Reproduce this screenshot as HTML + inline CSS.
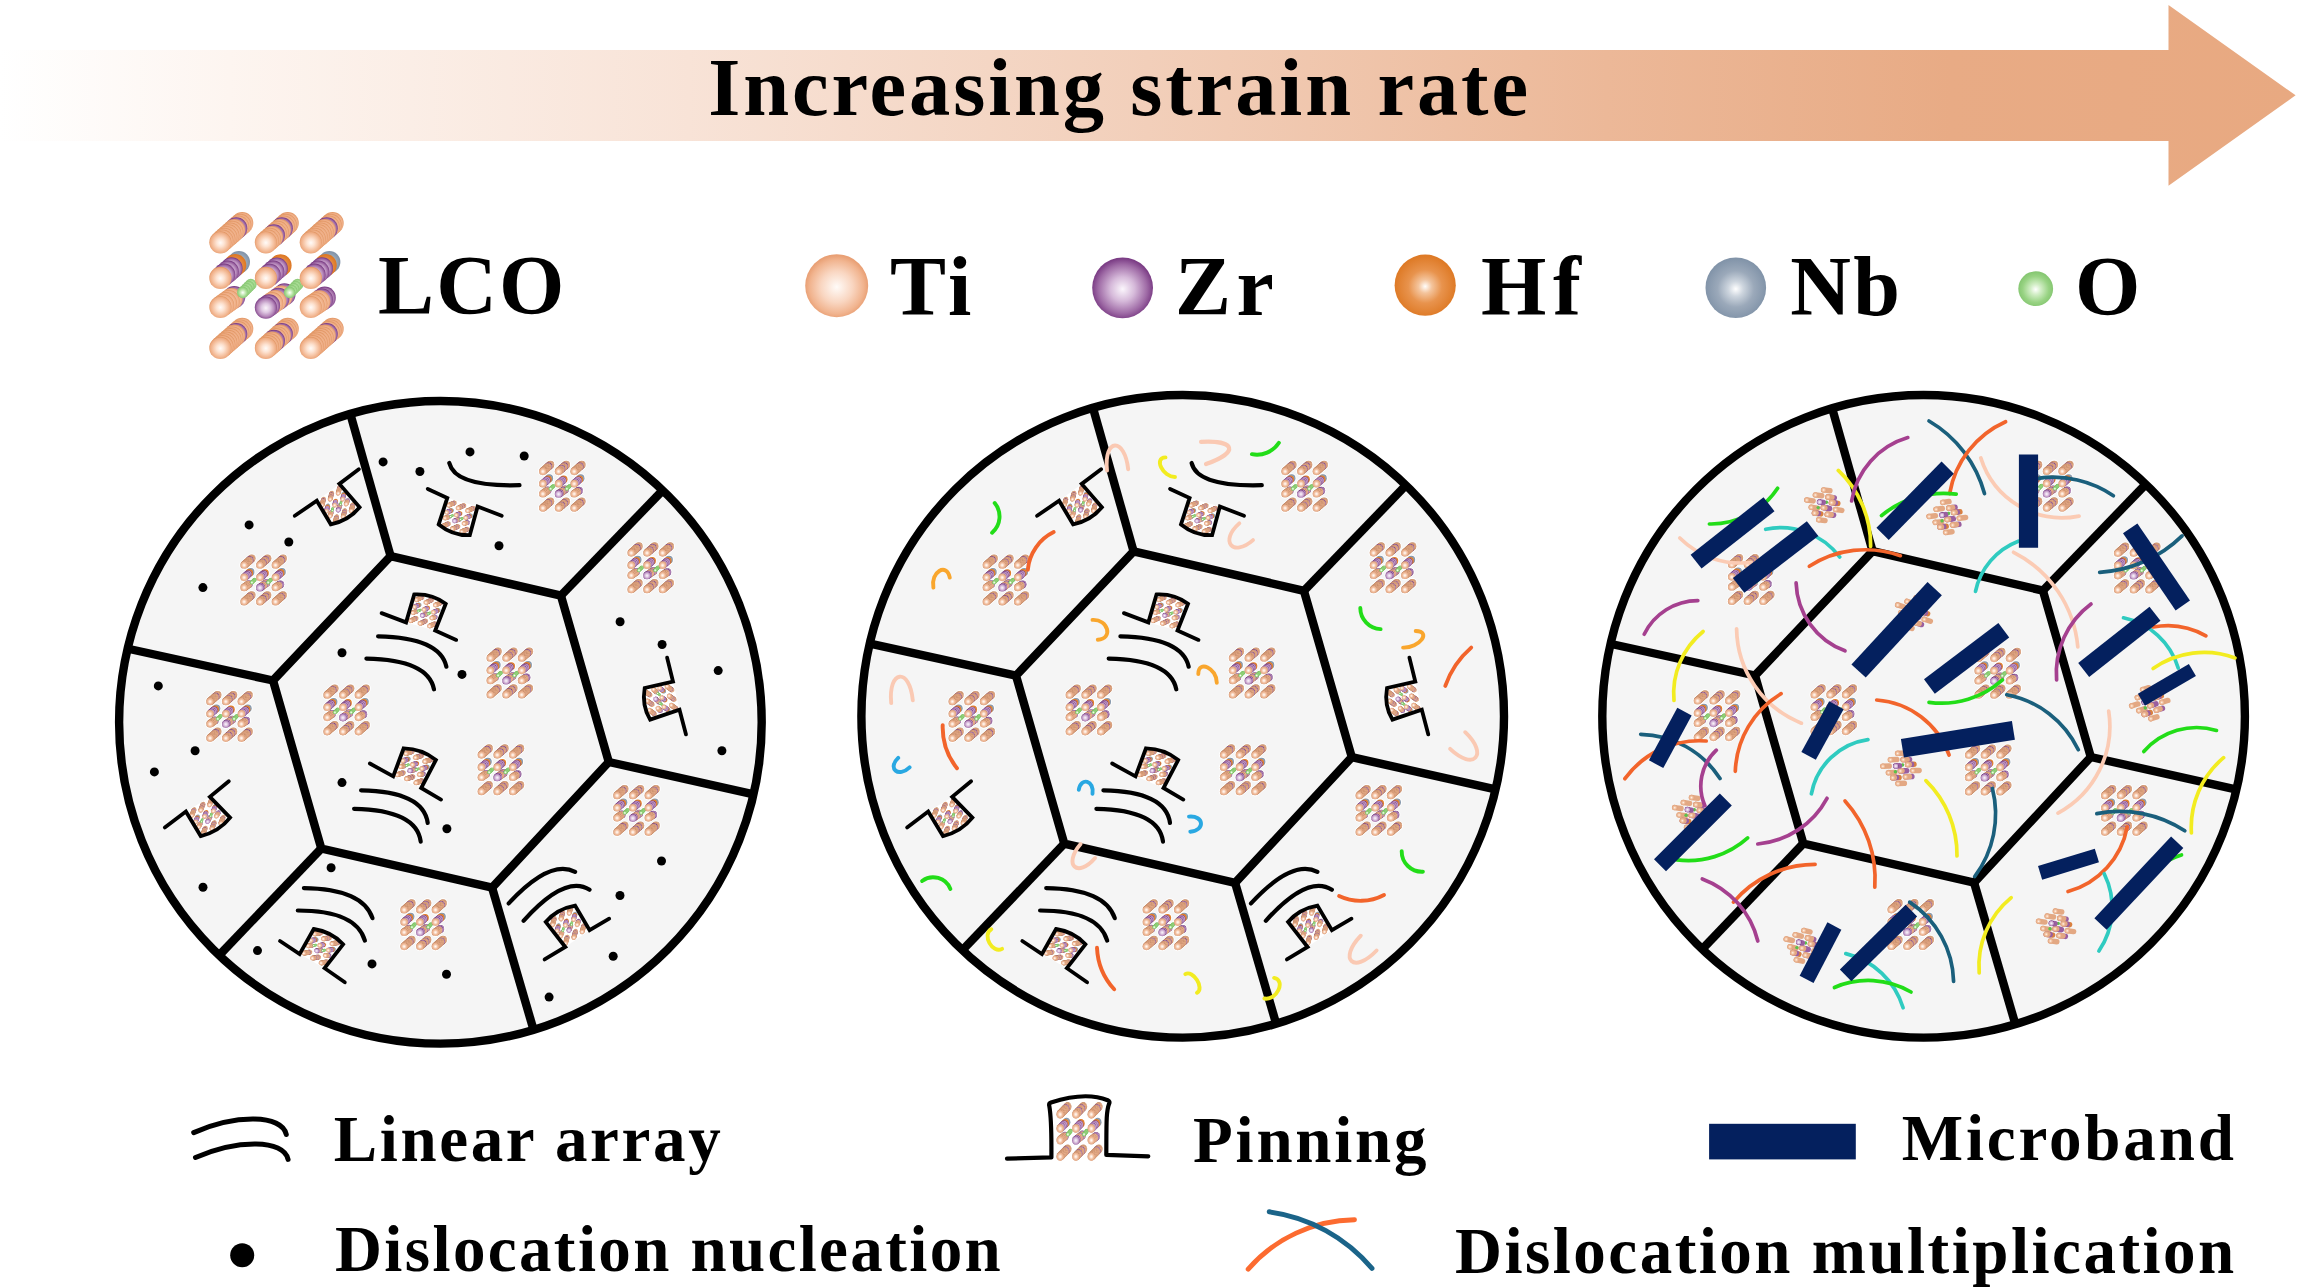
<!DOCTYPE html>
<html><head><meta charset="utf-8"><title>Increasing strain rate</title>
<style>
html,body{margin:0;padding:0;background:#fff;}
svg{display:block;}
text{font-family:"Liberation Serif",serif;font-weight:bold;fill:#000;}
</style></head><body>
<svg width="2300" height="1287" viewBox="0 0 2300 1287">
<defs>
<linearGradient id="arrowg" gradientUnits="userSpaceOnUse" x1="0" y1="0" x2="2295" y2="0">
<stop offset="0" stop-color="#ffffff"/><stop offset="0.1" stop-color="#fdf5f0"/><stop offset="0.3" stop-color="#f8e3d7"/><stop offset="0.5" stop-color="#f2cfba"/><stop offset="0.7" stop-color="#ecb898"/><stop offset="0.85" stop-color="#e8ab85"/><stop offset="1" stop-color="#e8a981"/>
</linearGradient>
<radialGradient id="gP" cx="0.5" cy="0.52" r="0.5"><stop offset="0" stop-color="#fffbf8"/><stop offset="0.3" stop-color="#fce2d2"/><stop offset="0.6" stop-color="#f0bd9d"/><stop offset="0.88" stop-color="#e7ab88"/><stop offset="1" stop-color="#c48a66"/></radialGradient>
<radialGradient id="gV" cx="0.5" cy="0.52" r="0.5"><stop offset="0" stop-color="#fcf6fc"/><stop offset="0.4" stop-color="#e2cde5"/><stop offset="0.8" stop-color="#bd93c3"/><stop offset="0.94" stop-color="#a06fa8"/><stop offset="1" stop-color="#733a7d"/></radialGradient>
<radialGradient id="gO" cx="0.5" cy="0.52" r="0.5"><stop offset="0" stop-color="#fff8f0"/><stop offset="0.25" stop-color="#f3bf93"/><stop offset="0.6" stop-color="#e58c44"/><stop offset="1" stop-color="#dd7722"/></radialGradient>
<radialGradient id="gG" cx="0.5" cy="0.52" r="0.5"><stop offset="0" stop-color="#fafbfc"/><stop offset="0.3" stop-color="#c3ccd6"/><stop offset="0.65" stop-color="#98a7b8"/><stop offset="1" stop-color="#8092a7"/></radialGradient>
<radialGradient id="gN" cx="0.5" cy="0.52" r="0.5"><stop offset="0" stop-color="#ffffff"/><stop offset="0.3" stop-color="#d6f1ca"/><stop offset="0.7" stop-color="#93d27b"/><stop offset="1" stop-color="#6fbc57"/></radialGradient>
<radialGradient id="gS" cx="0.5" cy="0.52" r="0.5"><stop offset="0" stop-color="#fff6ee"/><stop offset="0.45" stop-color="#f3c4a4"/><stop offset="1" stop-color="#e0a27c"/></radialGradient>
<radialGradient id="gLP" cx="0.5" cy="0.52" r="0.5"><stop offset="0" stop-color="#fffbf8"/><stop offset="0.5" stop-color="#f9d6c1"/><stop offset="0.85" stop-color="#f1b48f"/><stop offset="1" stop-color="#e9a075"/></radialGradient>
<radialGradient id="gLV" cx="0.5" cy="0.52" r="0.5"><stop offset="0" stop-color="#fbf6fc"/><stop offset="0.4" stop-color="#d6bada"/><stop offset="0.8" stop-color="#9f6ba6"/><stop offset="1" stop-color="#7c3e86"/></radialGradient>
<radialGradient id="gLO" cx="0.5" cy="0.52" r="0.5"><stop offset="0" stop-color="#fffdfb"/><stop offset="0.22" stop-color="#f4c49c"/><stop offset="0.55" stop-color="#e8934d"/><stop offset="1" stop-color="#de7a26"/></radialGradient>
<radialGradient id="gLG" cx="0.5" cy="0.52" r="0.5"><stop offset="0" stop-color="#ffffff"/><stop offset="0.25" stop-color="#cdd5de"/><stop offset="0.6" stop-color="#9ba9ba"/><stop offset="1" stop-color="#8294a9"/></radialGradient>
<radialGradient id="gLN" cx="0.5" cy="0.52" r="0.5"><stop offset="0" stop-color="#ffffff"/><stop offset="0.3" stop-color="#d2eec6"/><stop offset="0.75" stop-color="#98d383"/><stop offset="1" stop-color="#86c772"/></radialGradient>
<g id="lco">
<line x1="30.4" y1="42.3" x2="52.2" y2="23.1" stroke="#fff" stroke-opacity="0.85" stroke-width="28.7" stroke-linecap="round"/>
<line x1="75.9" y1="42.3" x2="97.7" y2="23.1" stroke="#fff" stroke-opacity="0.85" stroke-width="28.7" stroke-linecap="round"/>
<line x1="120.8" y1="42.3" x2="142.6" y2="23.1" stroke="#fff" stroke-opacity="0.85" stroke-width="28.7" stroke-linecap="round"/>
<line x1="30.4" y1="147.9" x2="52.2" y2="128.8" stroke="#fff" stroke-opacity="0.85" stroke-width="28.7" stroke-linecap="round"/>
<line x1="75.9" y1="147.9" x2="97.7" y2="128.8" stroke="#fff" stroke-opacity="0.85" stroke-width="28.7" stroke-linecap="round"/>
<line x1="120.8" y1="147.9" x2="142.6" y2="128.8" stroke="#fff" stroke-opacity="0.85" stroke-width="28.7" stroke-linecap="round"/>
<line x1="30.4" y1="107" x2="44.2" y2="97.1" stroke="#fff" stroke-opacity="0.85" stroke-width="28.7" stroke-linecap="round"/>
<line x1="75.9" y1="107.6" x2="94.4" y2="94.4" stroke="#fff" stroke-opacity="0.85" stroke-width="28.7" stroke-linecap="round"/>
<line x1="120.8" y1="107" x2="134.7" y2="97.7" stroke="#fff" stroke-opacity="0.85" stroke-width="28.7" stroke-linecap="round"/>
<line x1="52.8" y1="92.4" x2="60.8" y2="84.5" stroke="#fff" stroke-opacity="0.85" stroke-width="18.1" stroke-linecap="round"/>
<line x1="99.7" y1="92.4" x2="107.6" y2="84.5" stroke="#fff" stroke-opacity="0.85" stroke-width="18.1" stroke-linecap="round"/>
<line x1="30.4" y1="77.9" x2="48.9" y2="62.1" stroke="#fff" stroke-opacity="0.85" stroke-width="28.7" stroke-linecap="round"/>
<line x1="75.9" y1="77.9" x2="90.5" y2="65.4" stroke="#fff" stroke-opacity="0.85" stroke-width="28.7" stroke-linecap="round"/>
<line x1="120.8" y1="77.9" x2="139.3" y2="62.1" stroke="#fff" stroke-opacity="0.85" stroke-width="28.7" stroke-linecap="round"/>
<circle cx="52.2" cy="23.1" r="11.1" fill="url(#gP)"/>
<circle cx="50.2" cy="24.9" r="11.1" fill="url(#gP)"/>
<circle cx="48.2" cy="26.6" r="11.1" fill="url(#gP)"/>
<circle cx="46.2" cy="28.3" r="11.1" fill="url(#gV)"/>
<circle cx="44.2" cy="30.1" r="11.1" fill="url(#gP)"/>
<circle cx="42.3" cy="31.8" r="11.1" fill="url(#gP)"/>
<circle cx="40.3" cy="33.6" r="11.1" fill="url(#gP)"/>
<circle cx="38.3" cy="35.3" r="11.1" fill="url(#gP)"/>
<circle cx="36.3" cy="37" r="11.1" fill="url(#gP)"/>
<circle cx="34.3" cy="38.8" r="11.1" fill="url(#gP)"/>
<circle cx="32.4" cy="40.5" r="11.1" fill="url(#gP)"/>
<circle cx="30.4" cy="42.3" r="11.1" fill="url(#gP)"/>
<circle cx="97.7" cy="23.1" r="11.1" fill="url(#gP)"/>
<circle cx="95.7" cy="24.9" r="11.1" fill="url(#gP)"/>
<circle cx="93.8" cy="26.6" r="11.1" fill="url(#gP)"/>
<circle cx="91.8" cy="28.3" r="11.1" fill="url(#gV)"/>
<circle cx="89.8" cy="30.1" r="11.1" fill="url(#gP)"/>
<circle cx="87.8" cy="31.8" r="11.1" fill="url(#gP)"/>
<circle cx="85.8" cy="33.6" r="11.1" fill="url(#gP)"/>
<circle cx="83.9" cy="35.3" r="11.1" fill="url(#gV)"/>
<circle cx="81.9" cy="37" r="11.1" fill="url(#gP)"/>
<circle cx="79.9" cy="38.8" r="11.1" fill="url(#gP)"/>
<circle cx="77.9" cy="40.5" r="11.1" fill="url(#gP)"/>
<circle cx="75.9" cy="42.3" r="11.1" fill="url(#gP)"/>
<circle cx="142.6" cy="23.1" r="11.1" fill="url(#gP)"/>
<circle cx="140.6" cy="24.9" r="11.1" fill="url(#gP)"/>
<circle cx="138.7" cy="26.6" r="11.1" fill="url(#gP)"/>
<circle cx="136.7" cy="28.3" r="11.1" fill="url(#gV)"/>
<circle cx="134.7" cy="30.1" r="11.1" fill="url(#gP)"/>
<circle cx="132.7" cy="31.8" r="11.1" fill="url(#gP)"/>
<circle cx="130.7" cy="33.6" r="11.1" fill="url(#gP)"/>
<circle cx="128.8" cy="35.3" r="11.1" fill="url(#gP)"/>
<circle cx="126.8" cy="37" r="11.1" fill="url(#gP)"/>
<circle cx="124.8" cy="38.8" r="11.1" fill="url(#gP)"/>
<circle cx="122.8" cy="40.5" r="11.1" fill="url(#gP)"/>
<circle cx="120.8" cy="42.3" r="11.1" fill="url(#gP)"/>
<circle cx="52.2" cy="128.8" r="11.1" fill="url(#gP)"/>
<circle cx="50.2" cy="130.5" r="11.1" fill="url(#gP)"/>
<circle cx="48.2" cy="132.2" r="11.1" fill="url(#gP)"/>
<circle cx="46.2" cy="134" r="11.1" fill="url(#gV)"/>
<circle cx="44.2" cy="135.7" r="11.1" fill="url(#gP)"/>
<circle cx="42.3" cy="137.5" r="11.1" fill="url(#gP)"/>
<circle cx="40.3" cy="139.2" r="11.1" fill="url(#gP)"/>
<circle cx="38.3" cy="140.9" r="11.1" fill="url(#gP)"/>
<circle cx="36.3" cy="142.7" r="11.1" fill="url(#gP)"/>
<circle cx="34.3" cy="144.4" r="11.1" fill="url(#gP)"/>
<circle cx="32.4" cy="146.2" r="11.1" fill="url(#gP)"/>
<circle cx="30.4" cy="147.9" r="11.1" fill="url(#gP)"/>
<circle cx="97.7" cy="128.8" r="11.1" fill="url(#gP)"/>
<circle cx="95.7" cy="130.5" r="11.1" fill="url(#gP)"/>
<circle cx="93.8" cy="132.2" r="11.1" fill="url(#gP)"/>
<circle cx="91.8" cy="134" r="11.1" fill="url(#gV)"/>
<circle cx="89.8" cy="135.7" r="11.1" fill="url(#gP)"/>
<circle cx="87.8" cy="137.5" r="11.1" fill="url(#gP)"/>
<circle cx="85.8" cy="139.2" r="11.1" fill="url(#gP)"/>
<circle cx="83.9" cy="140.9" r="11.1" fill="url(#gV)"/>
<circle cx="81.9" cy="142.7" r="11.1" fill="url(#gP)"/>
<circle cx="79.9" cy="144.4" r="11.1" fill="url(#gP)"/>
<circle cx="77.9" cy="146.2" r="11.1" fill="url(#gP)"/>
<circle cx="75.9" cy="147.9" r="11.1" fill="url(#gP)"/>
<circle cx="142.6" cy="128.8" r="11.1" fill="url(#gP)"/>
<circle cx="140.6" cy="130.5" r="11.1" fill="url(#gP)"/>
<circle cx="138.7" cy="132.2" r="11.1" fill="url(#gP)"/>
<circle cx="136.7" cy="134" r="11.1" fill="url(#gV)"/>
<circle cx="134.7" cy="135.7" r="11.1" fill="url(#gP)"/>
<circle cx="132.7" cy="137.5" r="11.1" fill="url(#gP)"/>
<circle cx="130.7" cy="139.2" r="11.1" fill="url(#gP)"/>
<circle cx="128.8" cy="140.9" r="11.1" fill="url(#gP)"/>
<circle cx="126.8" cy="142.7" r="11.1" fill="url(#gP)"/>
<circle cx="124.8" cy="144.4" r="11.1" fill="url(#gP)"/>
<circle cx="122.8" cy="146.2" r="11.1" fill="url(#gP)"/>
<circle cx="120.8" cy="147.9" r="11.1" fill="url(#gP)"/>
<circle cx="44.2" cy="97.1" r="11.1" fill="url(#gV)"/>
<circle cx="41.5" cy="99" r="11.1" fill="url(#gP)"/>
<circle cx="38.7" cy="101" r="11.1" fill="url(#gP)"/>
<circle cx="35.9" cy="103" r="11.1" fill="url(#gP)"/>
<circle cx="33.1" cy="105" r="11.1" fill="url(#gP)"/>
<circle cx="30.4" cy="107" r="11.1" fill="url(#gP)"/>
<circle cx="94.4" cy="94.4" r="11.1" fill="url(#gV)"/>
<circle cx="91.3" cy="96.6" r="11.1" fill="url(#gP)"/>
<circle cx="88.3" cy="98.8" r="11.1" fill="url(#gV)"/>
<circle cx="85.2" cy="101" r="11.1" fill="url(#gP)"/>
<circle cx="82.1" cy="103.2" r="11.1" fill="url(#gP)"/>
<circle cx="79" cy="105.4" r="11.1" fill="url(#gV)"/>
<circle cx="75.9" cy="107.6" r="11.1" fill="url(#gV)"/>
<circle cx="134.7" cy="97.7" r="11.1" fill="url(#gV)"/>
<circle cx="131.9" cy="99.6" r="11.1" fill="url(#gV)"/>
<circle cx="129.2" cy="101.4" r="11.1" fill="url(#gP)"/>
<circle cx="126.4" cy="103.3" r="11.1" fill="url(#gP)"/>
<circle cx="123.6" cy="105.1" r="11.1" fill="url(#gP)"/>
<circle cx="120.8" cy="107" r="11.1" fill="url(#gP)"/>
<circle cx="60.8" cy="84.5" r="5.8" fill="url(#gN)"/>
<circle cx="58.8" cy="86.5" r="5.8" fill="url(#gN)"/>
<circle cx="56.8" cy="88.5" r="5.8" fill="url(#gN)"/>
<circle cx="54.8" cy="90.5" r="5.8" fill="url(#gN)"/>
<circle cx="52.8" cy="92.4" r="5.8" fill="url(#gN)"/>
<circle cx="107.6" cy="84.5" r="5.8" fill="url(#gN)"/>
<circle cx="105.7" cy="86.5" r="5.8" fill="url(#gN)"/>
<circle cx="103.7" cy="88.5" r="5.8" fill="url(#gN)"/>
<circle cx="101.7" cy="90.5" r="5.8" fill="url(#gN)"/>
<circle cx="99.7" cy="92.4" r="5.8" fill="url(#gN)"/>
<circle cx="48.9" cy="62.1" r="11.1" fill="url(#gG)"/>
<circle cx="45.2" cy="65.2" r="11.1" fill="url(#gO)"/>
<circle cx="41.5" cy="68.4" r="11.1" fill="url(#gV)"/>
<circle cx="37.8" cy="71.6" r="11.1" fill="url(#gV)"/>
<circle cx="34.1" cy="74.7" r="11.1" fill="url(#gV)"/>
<circle cx="30.4" cy="77.9" r="11.1" fill="url(#gP)"/>
<circle cx="90.5" cy="65.4" r="11.1" fill="url(#gO)"/>
<circle cx="86.8" cy="68.5" r="11.1" fill="url(#gV)"/>
<circle cx="83.2" cy="71.6" r="11.1" fill="url(#gV)"/>
<circle cx="79.6" cy="74.8" r="11.1" fill="url(#gV)"/>
<circle cx="75.9" cy="77.9" r="11.1" fill="url(#gP)"/>
<circle cx="139.3" cy="62.1" r="11.1" fill="url(#gG)"/>
<circle cx="135.6" cy="65.2" r="11.1" fill="url(#gO)"/>
<circle cx="131.9" cy="68.4" r="11.1" fill="url(#gV)"/>
<circle cx="128.2" cy="71.6" r="11.1" fill="url(#gV)"/>
<circle cx="124.5" cy="74.7" r="11.1" fill="url(#gV)"/>
<circle cx="120.8" cy="77.9" r="11.1" fill="url(#gP)"/>
</g>
<radialGradient id="gBP" cx="0.5" cy="0.52" r="0.5"><stop offset="0" stop-color="#fffbf8"/><stop offset="0.35" stop-color="#fde3d2"/><stop offset="0.7" stop-color="#f5c1a0"/><stop offset="0.92" stop-color="#eeab82"/><stop offset="1" stop-color="#e29866"/></radialGradient>
<radialGradient id="gBV" cx="0.5" cy="0.52" r="0.5"><stop offset="0" stop-color="#fbf4fb"/><stop offset="0.4" stop-color="#dfc8e2"/><stop offset="0.75" stop-color="#b88bbc"/><stop offset="0.92" stop-color="#97609e"/><stop offset="1" stop-color="#7b3e85"/></radialGradient>
<radialGradient id="gBO" cx="0.5" cy="0.52" r="0.5"><stop offset="0" stop-color="#fff8f0"/><stop offset="0.25" stop-color="#f3bf93"/><stop offset="0.6" stop-color="#e58c44"/><stop offset="1" stop-color="#dd7722"/></radialGradient>
<radialGradient id="gBG" cx="0.5" cy="0.52" r="0.5"><stop offset="0" stop-color="#fafbfc"/><stop offset="0.3" stop-color="#c3ccd6"/><stop offset="0.65" stop-color="#98a7b8"/><stop offset="1" stop-color="#8092a7"/></radialGradient>
<radialGradient id="gBN" cx="0.5" cy="0.52" r="0.5"><stop offset="0" stop-color="#ffffff"/><stop offset="0.3" stop-color="#d6f1ca"/><stop offset="0.7" stop-color="#a3d98e"/><stop offset="1" stop-color="#86c672"/></radialGradient>
<g id="lcobig">
<line x1="30.4" y1="42.3" x2="52.2" y2="23.1" stroke="#fff" stroke-opacity="0.85" stroke-width="28.7" stroke-linecap="round"/>
<line x1="75.9" y1="42.3" x2="97.7" y2="23.1" stroke="#fff" stroke-opacity="0.85" stroke-width="28.7" stroke-linecap="round"/>
<line x1="120.8" y1="42.3" x2="142.6" y2="23.1" stroke="#fff" stroke-opacity="0.85" stroke-width="28.7" stroke-linecap="round"/>
<line x1="30.4" y1="147.9" x2="52.2" y2="128.8" stroke="#fff" stroke-opacity="0.85" stroke-width="28.7" stroke-linecap="round"/>
<line x1="75.9" y1="147.9" x2="97.7" y2="128.8" stroke="#fff" stroke-opacity="0.85" stroke-width="28.7" stroke-linecap="round"/>
<line x1="120.8" y1="147.9" x2="142.6" y2="128.8" stroke="#fff" stroke-opacity="0.85" stroke-width="28.7" stroke-linecap="round"/>
<line x1="30.4" y1="107" x2="44.2" y2="97.1" stroke="#fff" stroke-opacity="0.85" stroke-width="28.7" stroke-linecap="round"/>
<line x1="75.9" y1="107.6" x2="94.4" y2="94.4" stroke="#fff" stroke-opacity="0.85" stroke-width="28.7" stroke-linecap="round"/>
<line x1="120.8" y1="107" x2="134.7" y2="97.7" stroke="#fff" stroke-opacity="0.85" stroke-width="28.7" stroke-linecap="round"/>
<line x1="52.8" y1="92.4" x2="60.8" y2="84.5" stroke="#fff" stroke-opacity="0.85" stroke-width="18.1" stroke-linecap="round"/>
<line x1="99.7" y1="92.4" x2="107.6" y2="84.5" stroke="#fff" stroke-opacity="0.85" stroke-width="18.1" stroke-linecap="round"/>
<line x1="30.4" y1="77.9" x2="48.9" y2="62.1" stroke="#fff" stroke-opacity="0.85" stroke-width="28.7" stroke-linecap="round"/>
<line x1="75.9" y1="77.9" x2="90.5" y2="65.4" stroke="#fff" stroke-opacity="0.85" stroke-width="28.7" stroke-linecap="round"/>
<line x1="120.8" y1="77.9" x2="139.3" y2="62.1" stroke="#fff" stroke-opacity="0.85" stroke-width="28.7" stroke-linecap="round"/>
<circle cx="52.2" cy="23.1" r="11.1" fill="url(#gBP)"/>
<circle cx="50.2" cy="24.9" r="11.1" fill="url(#gBP)"/>
<circle cx="48.2" cy="26.6" r="11.1" fill="url(#gBP)"/>
<circle cx="46.2" cy="28.3" r="11.1" fill="url(#gBV)"/>
<circle cx="44.2" cy="30.1" r="11.1" fill="url(#gBP)"/>
<circle cx="42.3" cy="31.8" r="11.1" fill="url(#gBP)"/>
<circle cx="40.3" cy="33.6" r="11.1" fill="url(#gBP)"/>
<circle cx="38.3" cy="35.3" r="11.1" fill="url(#gBP)"/>
<circle cx="36.3" cy="37" r="11.1" fill="url(#gBP)"/>
<circle cx="34.3" cy="38.8" r="11.1" fill="url(#gBP)"/>
<circle cx="32.4" cy="40.5" r="11.1" fill="url(#gBP)"/>
<circle cx="30.4" cy="42.3" r="11.1" fill="url(#gBP)"/>
<circle cx="97.7" cy="23.1" r="11.1" fill="url(#gBP)"/>
<circle cx="95.7" cy="24.9" r="11.1" fill="url(#gBP)"/>
<circle cx="93.8" cy="26.6" r="11.1" fill="url(#gBP)"/>
<circle cx="91.8" cy="28.3" r="11.1" fill="url(#gBV)"/>
<circle cx="89.8" cy="30.1" r="11.1" fill="url(#gBP)"/>
<circle cx="87.8" cy="31.8" r="11.1" fill="url(#gBP)"/>
<circle cx="85.8" cy="33.6" r="11.1" fill="url(#gBP)"/>
<circle cx="83.9" cy="35.3" r="11.1" fill="url(#gBV)"/>
<circle cx="81.9" cy="37" r="11.1" fill="url(#gBP)"/>
<circle cx="79.9" cy="38.8" r="11.1" fill="url(#gBP)"/>
<circle cx="77.9" cy="40.5" r="11.1" fill="url(#gBP)"/>
<circle cx="75.9" cy="42.3" r="11.1" fill="url(#gBP)"/>
<circle cx="142.6" cy="23.1" r="11.1" fill="url(#gBP)"/>
<circle cx="140.6" cy="24.9" r="11.1" fill="url(#gBP)"/>
<circle cx="138.7" cy="26.6" r="11.1" fill="url(#gBP)"/>
<circle cx="136.7" cy="28.3" r="11.1" fill="url(#gBV)"/>
<circle cx="134.7" cy="30.1" r="11.1" fill="url(#gBP)"/>
<circle cx="132.7" cy="31.8" r="11.1" fill="url(#gBP)"/>
<circle cx="130.7" cy="33.6" r="11.1" fill="url(#gBP)"/>
<circle cx="128.8" cy="35.3" r="11.1" fill="url(#gBP)"/>
<circle cx="126.8" cy="37" r="11.1" fill="url(#gBP)"/>
<circle cx="124.8" cy="38.8" r="11.1" fill="url(#gBP)"/>
<circle cx="122.8" cy="40.5" r="11.1" fill="url(#gBP)"/>
<circle cx="120.8" cy="42.3" r="11.1" fill="url(#gBP)"/>
<circle cx="52.2" cy="128.8" r="11.1" fill="url(#gBP)"/>
<circle cx="50.2" cy="130.5" r="11.1" fill="url(#gBP)"/>
<circle cx="48.2" cy="132.2" r="11.1" fill="url(#gBP)"/>
<circle cx="46.2" cy="134" r="11.1" fill="url(#gBV)"/>
<circle cx="44.2" cy="135.7" r="11.1" fill="url(#gBP)"/>
<circle cx="42.3" cy="137.5" r="11.1" fill="url(#gBP)"/>
<circle cx="40.3" cy="139.2" r="11.1" fill="url(#gBP)"/>
<circle cx="38.3" cy="140.9" r="11.1" fill="url(#gBP)"/>
<circle cx="36.3" cy="142.7" r="11.1" fill="url(#gBP)"/>
<circle cx="34.3" cy="144.4" r="11.1" fill="url(#gBP)"/>
<circle cx="32.4" cy="146.2" r="11.1" fill="url(#gBP)"/>
<circle cx="30.4" cy="147.9" r="11.1" fill="url(#gBP)"/>
<circle cx="97.7" cy="128.8" r="11.1" fill="url(#gBP)"/>
<circle cx="95.7" cy="130.5" r="11.1" fill="url(#gBP)"/>
<circle cx="93.8" cy="132.2" r="11.1" fill="url(#gBP)"/>
<circle cx="91.8" cy="134" r="11.1" fill="url(#gBV)"/>
<circle cx="89.8" cy="135.7" r="11.1" fill="url(#gBP)"/>
<circle cx="87.8" cy="137.5" r="11.1" fill="url(#gBP)"/>
<circle cx="85.8" cy="139.2" r="11.1" fill="url(#gBP)"/>
<circle cx="83.9" cy="140.9" r="11.1" fill="url(#gBV)"/>
<circle cx="81.9" cy="142.7" r="11.1" fill="url(#gBP)"/>
<circle cx="79.9" cy="144.4" r="11.1" fill="url(#gBP)"/>
<circle cx="77.9" cy="146.2" r="11.1" fill="url(#gBP)"/>
<circle cx="75.9" cy="147.9" r="11.1" fill="url(#gBP)"/>
<circle cx="142.6" cy="128.8" r="11.1" fill="url(#gBP)"/>
<circle cx="140.6" cy="130.5" r="11.1" fill="url(#gBP)"/>
<circle cx="138.7" cy="132.2" r="11.1" fill="url(#gBP)"/>
<circle cx="136.7" cy="134" r="11.1" fill="url(#gBV)"/>
<circle cx="134.7" cy="135.7" r="11.1" fill="url(#gBP)"/>
<circle cx="132.7" cy="137.5" r="11.1" fill="url(#gBP)"/>
<circle cx="130.7" cy="139.2" r="11.1" fill="url(#gBP)"/>
<circle cx="128.8" cy="140.9" r="11.1" fill="url(#gBP)"/>
<circle cx="126.8" cy="142.7" r="11.1" fill="url(#gBP)"/>
<circle cx="124.8" cy="144.4" r="11.1" fill="url(#gBP)"/>
<circle cx="122.8" cy="146.2" r="11.1" fill="url(#gBP)"/>
<circle cx="120.8" cy="147.9" r="11.1" fill="url(#gBP)"/>
<circle cx="44.2" cy="97.1" r="11.1" fill="url(#gBV)"/>
<circle cx="41.5" cy="99" r="11.1" fill="url(#gBP)"/>
<circle cx="38.7" cy="101" r="11.1" fill="url(#gBP)"/>
<circle cx="35.9" cy="103" r="11.1" fill="url(#gBP)"/>
<circle cx="33.1" cy="105" r="11.1" fill="url(#gBP)"/>
<circle cx="30.4" cy="107" r="11.1" fill="url(#gBP)"/>
<circle cx="94.4" cy="94.4" r="11.1" fill="url(#gBV)"/>
<circle cx="91.3" cy="96.6" r="11.1" fill="url(#gBP)"/>
<circle cx="88.3" cy="98.8" r="11.1" fill="url(#gBV)"/>
<circle cx="85.2" cy="101" r="11.1" fill="url(#gBP)"/>
<circle cx="82.1" cy="103.2" r="11.1" fill="url(#gBP)"/>
<circle cx="79" cy="105.4" r="11.1" fill="url(#gBV)"/>
<circle cx="75.9" cy="107.6" r="11.1" fill="url(#gBV)"/>
<circle cx="134.7" cy="97.7" r="11.1" fill="url(#gBV)"/>
<circle cx="131.9" cy="99.6" r="11.1" fill="url(#gBV)"/>
<circle cx="129.2" cy="101.4" r="11.1" fill="url(#gBP)"/>
<circle cx="126.4" cy="103.3" r="11.1" fill="url(#gBP)"/>
<circle cx="123.6" cy="105.1" r="11.1" fill="url(#gBP)"/>
<circle cx="120.8" cy="107" r="11.1" fill="url(#gBP)"/>
<circle cx="60.8" cy="84.5" r="5.8" fill="url(#gBN)"/>
<circle cx="58.8" cy="86.5" r="5.8" fill="url(#gBN)"/>
<circle cx="56.8" cy="88.5" r="5.8" fill="url(#gBN)"/>
<circle cx="54.8" cy="90.5" r="5.8" fill="url(#gBN)"/>
<circle cx="52.8" cy="92.4" r="5.8" fill="url(#gBN)"/>
<circle cx="107.6" cy="84.5" r="5.8" fill="url(#gBN)"/>
<circle cx="105.7" cy="86.5" r="5.8" fill="url(#gBN)"/>
<circle cx="103.7" cy="88.5" r="5.8" fill="url(#gBN)"/>
<circle cx="101.7" cy="90.5" r="5.8" fill="url(#gBN)"/>
<circle cx="99.7" cy="92.4" r="5.8" fill="url(#gBN)"/>
<circle cx="48.9" cy="62.1" r="11.1" fill="url(#gBG)"/>
<circle cx="45.2" cy="65.2" r="11.1" fill="url(#gBO)"/>
<circle cx="41.5" cy="68.4" r="11.1" fill="url(#gBV)"/>
<circle cx="37.8" cy="71.6" r="11.1" fill="url(#gBV)"/>
<circle cx="34.1" cy="74.7" r="11.1" fill="url(#gBV)"/>
<circle cx="30.4" cy="77.9" r="11.1" fill="url(#gBP)"/>
<circle cx="90.5" cy="65.4" r="11.1" fill="url(#gBO)"/>
<circle cx="86.8" cy="68.5" r="11.1" fill="url(#gBV)"/>
<circle cx="83.2" cy="71.6" r="11.1" fill="url(#gBV)"/>
<circle cx="79.6" cy="74.8" r="11.1" fill="url(#gBV)"/>
<circle cx="75.9" cy="77.9" r="11.1" fill="url(#gBP)"/>
<circle cx="139.3" cy="62.1" r="11.1" fill="url(#gBG)"/>
<circle cx="135.6" cy="65.2" r="11.1" fill="url(#gBO)"/>
<circle cx="131.9" cy="68.4" r="11.1" fill="url(#gBV)"/>
<circle cx="128.2" cy="71.6" r="11.1" fill="url(#gBV)"/>
<circle cx="124.5" cy="74.7" r="11.1" fill="url(#gBV)"/>
<circle cx="120.8" cy="77.9" r="11.1" fill="url(#gBP)"/>
</g>
<g id="lco2">
<line x1="-0.2" y1="-14.8" x2="6.1" y2="-13.9" stroke="#e3a883" stroke-width="5.5" stroke-linecap="round"/>
<circle cx="-0.2" cy="-14.8" r="2.75" fill="url(#gS)"/>
<line x1="-8.4" y1="-9.8" x2="-2.1" y2="-8.9" stroke="#e3a883" stroke-width="5.5" stroke-linecap="round"/>
<circle cx="-8.4" cy="-9.8" r="2.75" fill="url(#gS)"/>
<line x1="4.2" y1="-7.7" x2="10.5" y2="-6.8" stroke="#9a5fa0" stroke-width="5.5" stroke-linecap="round"/>
<line x1="4.2" y1="-7.7" x2="8.1" y2="-7.2" stroke="#e3a883" stroke-width="5.5" stroke-linecap="round"/>
<line x1="4.2" y1="-7.7" x2="5.8" y2="-7.5" stroke="#e3a883" stroke-width="5.5" stroke-linecap="round"/>
<circle cx="4.2" cy="-7.7" r="2.75" fill="url(#gS)"/>
<line x1="-17" y1="-4.7" x2="-10.7" y2="-3.8" stroke="#e3a883" stroke-width="5.5" stroke-linecap="round"/>
<circle cx="-17" cy="-4.7" r="2.75" fill="url(#gS)"/>
<line x1="7.7" y1="-2.1" x2="14" y2="-1.2" stroke="#d98040" stroke-width="5.5" stroke-linecap="round"/>
<line x1="7.7" y1="-2.1" x2="11.6" y2="-1.6" stroke="#9a5fa0" stroke-width="5.5" stroke-linecap="round"/>
<line x1="7.7" y1="-2.1" x2="9.3" y2="-1.9" stroke="#e3a883" stroke-width="5.5" stroke-linecap="round"/>
<circle cx="7.7" cy="-2.1" r="2.75" fill="url(#gS)"/>
<line x1="-12.6" y1="2.6" x2="-6.3" y2="3.5" stroke="#e3a883" stroke-width="5.5" stroke-linecap="round"/>
<circle cx="-12.6" cy="2.6" r="2.75" fill="url(#gS)"/>
<line x1="-0.5" y1="2.9" x2="5.8" y2="3.8" stroke="#9a5fa0" stroke-width="5.5" stroke-linecap="round"/>
<line x1="-0.5" y1="2.9" x2="3.4" y2="3.4" stroke="#9a5fa0" stroke-width="5.5" stroke-linecap="round"/>
<line x1="-0.5" y1="2.9" x2="1.1" y2="3.1" stroke="#e3a883" stroke-width="5.5" stroke-linecap="round"/>
<circle cx="-0.5" cy="2.9" r="2.75" fill="url(#gS)"/>
<line x1="11.7" y1="4.8" x2="18" y2="5.7" stroke="#e3a883" stroke-width="5.5" stroke-linecap="round"/>
<circle cx="11.7" cy="4.8" r="2.75" fill="url(#gS)"/>
<line x1="-9.3" y1="8.3" x2="-3" y2="9.2" stroke="#d98040" stroke-width="5.5" stroke-linecap="round"/>
<line x1="-9.3" y1="8.3" x2="-5.4" y2="8.8" stroke="#9a5fa0" stroke-width="5.5" stroke-linecap="round"/>
<line x1="-9.3" y1="8.3" x2="-7.7" y2="8.5" stroke="#e3a883" stroke-width="5.5" stroke-linecap="round"/>
<circle cx="-9.3" cy="8.3" r="2.75" fill="url(#gS)"/>
<line x1="3.5" y1="9.6" x2="9.8" y2="10.5" stroke="#9a5fa0" stroke-width="5.5" stroke-linecap="round"/>
<line x1="3.5" y1="9.6" x2="7.4" y2="10.1" stroke="#e3a883" stroke-width="5.5" stroke-linecap="round"/>
<line x1="3.5" y1="9.6" x2="5.1" y2="9.8" stroke="#e3a883" stroke-width="5.5" stroke-linecap="round"/>
<circle cx="3.5" cy="9.6" r="2.75" fill="url(#gS)"/>
<line x1="-5.1" y1="15" x2="1.2" y2="15.9" stroke="#e3a883" stroke-width="5.5" stroke-linecap="round"/>
<circle cx="-5.1" cy="15" r="2.75" fill="url(#gS)"/>
<circle cx="2.6" cy="-2.5" r="1.7" fill="#5cc04a"/>
<circle cx="-5.6" cy="2.9" r="1.7" fill="#5cc04a"/>
<line x1="-4.2" y1="-2.7" x2="-0.6" y2="-2.2" stroke="#9a5fa0" stroke-width="5.5" stroke-linecap="round"/>
<circle cx="-4.2" cy="-2.7" r="2.75" fill="url(#gV)"/>
</g>
</defs>
<rect width="2300" height="1287" fill="#fff"/>

<path d="M0 50.1H2168.5V5L2295.6 95.3L2168.5 185.8V141.1H0Z" fill="url(#arrowg)"/>
<text x="708.30" y="115.3" font-size="82.5" letter-spacing="2.881">Increasing strain rate</text>
<use href="#lcobig" transform="translate(190 200)"/>
<text x="378.10" y="314.3" font-size="84" letter-spacing="2.150">LCO</text>
<circle cx="836.7" cy="285.7" r="31.5" fill="url(#gLP)"/>
<text x="890.00" y="315" font-size="84" letter-spacing="3.400">Ti</text>
<circle cx="1122.6" cy="287.8" r="30.4" fill="url(#gLV)"/>
<text x="1175.00" y="315" font-size="84" letter-spacing="5.500">Zr</text>
<circle cx="1425.2" cy="285.2" r="30.6" fill="url(#gLO)"/>
<text x="1480.90" y="315" font-size="84" letter-spacing="6.800">Hf</text>
<circle cx="1735.8" cy="287.7" r="30.3" fill="url(#gLG)"/>
<text x="1790.20" y="315" font-size="84" letter-spacing="2.300">Nb</text>
<circle cx="2035.7" cy="288.7" r="17.4" fill="url(#gLN)"/>
<text x="2075.00" y="315" font-size="84" letter-spacing="0.000">O</text>
<g id="circ1">
<circle cx="440.4" cy="722.3" r="321.3" fill="#f5f5f5" stroke="#000" stroke-width="8.4"/>
<polygon points="390.6,556.2 560.9,595.6 608.8,762 492.1,887.7 321.3,848.5 273,680.5" fill="none" stroke="#000" stroke-width="8.4" stroke-linejoin="miter"/>
<line x1="390.6" y1="556.2" x2="350.3" y2="413.9" stroke="#000" stroke-width="8.4"/>
<line x1="560.9" y1="595.6" x2="661.6" y2="491.5" stroke="#000" stroke-width="8.4"/>
<line x1="608.8" y1="762" x2="752.6" y2="794.1" stroke="#000" stroke-width="8.4"/>
<line x1="492.1" y1="887.7" x2="533.1" y2="1028.3" stroke="#000" stroke-width="8.4"/>
<line x1="321.3" y1="848.5" x2="220.9" y2="953.5" stroke="#000" stroke-width="8.4"/>
<line x1="273" y1="680.5" x2="127" y2="648.5" stroke="#000" stroke-width="8.4"/>
<use href="#lco" transform="translate(562.3 486.3) scale(0.3467 0.3467) translate(-86.5 -85.5)"/>
<use href="#lco" transform="translate(263.6 580) scale(0.3467 0.3467) translate(-86.5 -85.5)"/>
<use href="#lco" transform="translate(650.7 567.8) scale(0.3467 0.3467) translate(-86.5 -85.5)"/>
<use href="#lco" transform="translate(636.5 810.4) scale(0.3467 0.3467) translate(-86.5 -85.5)"/>
<use href="#lco" transform="translate(423.6 924.7) scale(0.3467 0.3467) translate(-86.5 -85.5)"/>
<use href="#lco" transform="translate(229.5 716.4) scale(0.3467 0.3467) translate(-86.5 -85.5)"/>
<use href="#lco" transform="translate(346.6 709.9) scale(0.3467 0.3467) translate(-86.5 -85.5)"/>
<use href="#lco" transform="translate(509.8 673) scale(0.3467 0.3467) translate(-86.5 -85.5)"/>
<use href="#lco" transform="translate(500.9 769.8) scale(0.3467 0.3467) translate(-86.5 -85.5)"/>
<path d="M449.3 463Q455 487 519.5 485.2" fill="none" stroke="#000" stroke-width="4.2" stroke-linecap="round"/>
<path d="M508.7 903.4Q550 858.8 575.1 871.9" fill="none" stroke="#000" stroke-width="4.2" stroke-linecap="round"/>
<path d="M523.5 920.8Q565.3 874.1 589.6 889.7" fill="none" stroke="#000" stroke-width="4.2" stroke-linecap="round"/>
<path d="M303.9 888.1Q362.7 888.8 372.5 918.2" fill="none" stroke="#000" stroke-width="4.2" stroke-linecap="round"/>
<path d="M297.8 910.5Q356.2 910.5 364.9 940.6" fill="none" stroke="#000" stroke-width="4.2" stroke-linecap="round"/>
<path d="M378.1 636.4Q439.9 637.6 446.4 666.7" fill="none" stroke="#000" stroke-width="4.2" stroke-linecap="round"/>
<path d="M366.4 658.6Q428.2 659.7 434 689.3" fill="none" stroke="#000" stroke-width="4.2" stroke-linecap="round"/>
<path d="M361.1 790.3Q423.5 791.4 427.7 822.9" fill="none" stroke="#000" stroke-width="4.2" stroke-linecap="round"/>
<path d="M354.1 808.9Q416.6 810.1 420.7 841.6" fill="none" stroke="#000" stroke-width="4.2" stroke-linecap="round"/>
<clipPath id="pc1"><path d="M447.3 497.9L438.7 524.4Q452.5 535.6 469.8 535.2L477.6 506.5Z"/></clipPath><path d="M447.3 497.9L438.7 524.4Q452.5 535.6 469.8 535.2L477.6 506.5Z" fill="#fff"/><g clip-path="url(#pc1)"><use href="#lco" transform="translate(458 517.2) rotate(15.8) scale(0.2189 0.2055) translate(-86.5 -85.5)"/></g><path d="M427.8 488.9L447.3 497.9L438.7 524.4Q452.5 535.6 469.8 535.2L477.6 506.5L501.7 515.8" fill="none" stroke="#000" stroke-width="3.8" stroke-linecap="round" stroke-linejoin="miter"/>
<clipPath id="pc2"><path d="M316.8 500.7L330.8 524.3Q348.7 520.6 359.6 507.2L339.4 483.9Z"/></clipPath><path d="M316.8 500.7L330.8 524.3Q348.7 520.6 359.6 507.2L339.4 483.9Z" fill="#fff"/><g clip-path="url(#pc2)"><use href="#lco" transform="translate(337.4 505) rotate(-36.6) scale(0.2227 0.2070) translate(-86.5 -85.5)"/></g><path d="M294.8 515.8L316.8 500.7L330.8 524.3Q348.7 520.6 359.6 507.2L339.4 483.9L358.8 469.2" fill="none" stroke="#000" stroke-width="3.8" stroke-linecap="round" stroke-linejoin="miter"/>
<clipPath id="pc3"><path d="M673 681.5L644.7 688Q641.6 705.4 650.1 719.6L679.5 709.8Z"/></clipPath><path d="M673 681.5L644.7 688Q641.6 705.4 650.1 719.6L679.5 709.8Z" fill="#fff"/><g clip-path="url(#pc3)"><use href="#lco" transform="translate(660.7 700.1) rotate(77.1) scale(0.2132 0.2132) translate(-86.5 -85.5)"/></g><path d="M667.1 657.6L673 681.5L644.7 688Q641.6 705.4 650.1 719.6L679.5 709.8L686 734.4" fill="none" stroke="#000" stroke-width="3.8" stroke-linecap="round" stroke-linejoin="miter"/>
<clipPath id="pc4"><path d="M565.3 947L545.7 921.9Q557 908.8 575.1 905.6L589.6 930.2Z"/></clipPath><path d="M565.3 947L545.7 921.9Q557 908.8 575.1 905.6L589.6 930.2Z" fill="#fff"/><g clip-path="url(#pc4)"><use href="#lco" transform="translate(568.2 925.2) rotate(-34.7) scale(0.2235 0.2142) translate(-86.5 -85.5)"/></g><path d="M544.6 959.4L565.3 947L545.7 921.9Q557 908.8 575.1 905.6L589.6 930.2L609.2 918.7" fill="none" stroke="#000" stroke-width="3.8" stroke-linecap="round" stroke-linejoin="miter"/>
<clipPath id="pc5"><path d="M299.6 954.1L313.7 929Q331.7 931.7 343.1 944.3L324.6 968.2Z"/></clipPath><path d="M299.6 954.1L313.7 929Q331.7 931.7 343.1 944.3L324.6 968.2Z" fill="#fff"/><g clip-path="url(#pc5)"><use href="#lco" transform="translate(320.9 947.9) rotate(29.4) scale(0.2204 0.2096) translate(-86.5 -85.5)"/></g><path d="M280 941L299.6 954.1L313.7 929Q331.7 931.7 343.1 944.3L324.6 968.2L344.8 982.3" fill="none" stroke="#000" stroke-width="3.8" stroke-linecap="round" stroke-linejoin="miter"/>
<clipPath id="pc6"><path d="M185.9 811.5L200.7 836.1Q219.1 831.6 230.1 817.6L209.9 796.9Z"/></clipPath><path d="M185.9 811.5L200.7 836.1Q219.1 831.6 230.1 817.6L209.9 796.9Z" fill="#fff"/><g clip-path="url(#pc6)"><use href="#lco" transform="translate(207.4 816.5) rotate(-31.3) scale(0.2310 0.2045) translate(-86.5 -85.5)"/></g><path d="M164.8 827.4L185.9 811.5L200.7 836.1Q219.1 831.6 230.1 817.6L209.9 796.9L228.8 781.2" fill="none" stroke="#000" stroke-width="3.8" stroke-linecap="round" stroke-linejoin="miter"/>
<clipPath id="pc7"><path d="M406.1 622.4L414.2 594.5Q431.9 593.5 445.7 603.8L435.2 630.6Z"/></clipPath><path d="M406.1 622.4L414.2 594.5Q431.9 593.5 445.7 603.8L435.2 630.6Z" fill="#fff"/><g clip-path="url(#pc7)"><use href="#lco" transform="translate(425.7 611.7) rotate(15.7) scale(0.2184 0.2062) translate(-86.5 -85.5)"/></g><path d="M381.6 613.1L406.1 622.4L414.2 594.5Q431.9 593.5 445.7 603.8L435.2 630.6L456.2 639.9" fill="none" stroke="#000" stroke-width="3.8" stroke-linecap="round" stroke-linejoin="miter"/>
<clipPath id="pc8"><path d="M393.2 776.3L403.7 748.3Q422.3 748.7 435.9 760L421.2 788Z"/></clipPath><path d="M393.2 776.3L403.7 748.3Q422.3 748.7 435.9 760L421.2 788Z" fill="#fff"/><g clip-path="url(#pc8)"><use href="#lco" transform="translate(414 767.1) rotate(22.7) scale(0.2278 0.2179) translate(-86.5 -85.5)"/></g><path d="M369.9 763.5L393.2 776.3L403.7 748.3Q422.3 748.7 435.9 760L421.2 788L441 799.6" fill="none" stroke="#000" stroke-width="3.8" stroke-linecap="round" stroke-linejoin="miter"/>
<circle cx="383.1" cy="461.9" r="4.5" fill="#000"/>
<circle cx="419.9" cy="471.5" r="4.5" fill="#000"/>
<circle cx="470" cy="451.9" r="4.5" fill="#000"/>
<circle cx="524.2" cy="456" r="4.5" fill="#000"/>
<circle cx="499" cy="545.7" r="4.5" fill="#000"/>
<circle cx="249.1" cy="524.9" r="4.5" fill="#000"/>
<circle cx="288.8" cy="542" r="4.5" fill="#000"/>
<circle cx="202.9" cy="587.6" r="4.5" fill="#000"/>
<circle cx="620.1" cy="621.7" r="4.5" fill="#000"/>
<circle cx="662.1" cy="644.5" r="4.5" fill="#000"/>
<circle cx="718.2" cy="670.6" r="4.5" fill="#000"/>
<circle cx="721.9" cy="750.7" r="4.5" fill="#000"/>
<circle cx="661.5" cy="861" r="4.5" fill="#000"/>
<circle cx="620" cy="895.5" r="4.5" fill="#000"/>
<circle cx="613.2" cy="956.3" r="4.5" fill="#000"/>
<circle cx="549.1" cy="997.1" r="4.5" fill="#000"/>
<circle cx="331.1" cy="867.7" r="4.5" fill="#000"/>
<circle cx="372" cy="963.9" r="4.5" fill="#000"/>
<circle cx="446.5" cy="974.3" r="4.5" fill="#000"/>
<circle cx="257.5" cy="950.6" r="4.5" fill="#000"/>
<circle cx="158.3" cy="685.9" r="4.5" fill="#000"/>
<circle cx="195.1" cy="750.8" r="4.5" fill="#000"/>
<circle cx="154.4" cy="771.9" r="4.5" fill="#000"/>
<circle cx="203" cy="887.2" r="4.5" fill="#000"/>
<circle cx="342" cy="652.8" r="4.5" fill="#000"/>
<circle cx="462" cy="674.4" r="4.5" fill="#000"/>
<circle cx="342" cy="782.6" r="4.5" fill="#000"/>
<circle cx="446.9" cy="828.7" r="4.5" fill="#000"/>
</g>
<g id="circ2">
<circle cx="1182.7" cy="716.3" r="321.3" fill="#f5f5f5" stroke="#000" stroke-width="8.4"/>
<polygon points="1133.6,551.4 1303.9,590.8 1351.8,757.2 1235.1,882.9 1064.3,843.7 1016,675.7" fill="none" stroke="#000" stroke-width="8.4" stroke-linejoin="miter"/>
<line x1="1133.6" y1="551.4" x2="1093.3" y2="409.1" stroke="#000" stroke-width="8.4"/>
<line x1="1303.9" y1="590.8" x2="1404.6" y2="486.7" stroke="#000" stroke-width="8.4"/>
<line x1="1351.8" y1="757.2" x2="1495.6" y2="789.3" stroke="#000" stroke-width="8.4"/>
<line x1="1235.1" y1="882.9" x2="1276.1" y2="1023.5" stroke="#000" stroke-width="8.4"/>
<line x1="1064.3" y1="843.7" x2="963.9" y2="948.7" stroke="#000" stroke-width="8.4"/>
<line x1="1016" y1="675.7" x2="870" y2="643.7" stroke="#000" stroke-width="8.4"/>
<g transform="translate(0 0.0)">
<use href="#lco" transform="translate(1304.6 486.3) scale(0.3467 0.3467) translate(-86.5 -85.5)"/>
<use href="#lco" transform="translate(1005.9 580) scale(0.3467 0.3467) translate(-86.5 -85.5)"/>
<use href="#lco" transform="translate(1393 567.8) scale(0.3467 0.3467) translate(-86.5 -85.5)"/>
<use href="#lco" transform="translate(1378.8 810.4) scale(0.3467 0.3467) translate(-86.5 -85.5)"/>
<use href="#lco" transform="translate(1165.9 924.7) scale(0.3467 0.3467) translate(-86.5 -85.5)"/>
<use href="#lco" transform="translate(971.8 716.4) scale(0.3467 0.3467) translate(-86.5 -85.5)"/>
<use href="#lco" transform="translate(1088.9 709.9) scale(0.3467 0.3467) translate(-86.5 -85.5)"/>
<use href="#lco" transform="translate(1252.1 673) scale(0.3467 0.3467) translate(-86.5 -85.5)"/>
<use href="#lco" transform="translate(1243.2 769.8) scale(0.3467 0.3467) translate(-86.5 -85.5)"/>
<path d="M1191.6 463Q1197.3 487 1261.8 485.2" fill="none" stroke="#000" stroke-width="4.2" stroke-linecap="round"/>
<path d="M1251 903.4Q1292.3 858.8 1317.4 871.9" fill="none" stroke="#000" stroke-width="4.2" stroke-linecap="round"/>
<path d="M1265.8 920.8Q1307.6 874.1 1331.9 889.7" fill="none" stroke="#000" stroke-width="4.2" stroke-linecap="round"/>
<path d="M1046.2 888.1Q1105 888.8 1114.8 918.2" fill="none" stroke="#000" stroke-width="4.2" stroke-linecap="round"/>
<path d="M1040.1 910.5Q1098.5 910.5 1107.2 940.6" fill="none" stroke="#000" stroke-width="4.2" stroke-linecap="round"/>
<path d="M1120.4 636.4Q1182.2 637.6 1188.7 666.7" fill="none" stroke="#000" stroke-width="4.2" stroke-linecap="round"/>
<path d="M1108.7 658.6Q1170.5 659.7 1176.3 689.3" fill="none" stroke="#000" stroke-width="4.2" stroke-linecap="round"/>
<path d="M1103.4 790.3Q1165.8 791.4 1170 822.9" fill="none" stroke="#000" stroke-width="4.2" stroke-linecap="round"/>
<path d="M1096.4 808.9Q1158.9 810.1 1163 841.6" fill="none" stroke="#000" stroke-width="4.2" stroke-linecap="round"/>
<clipPath id="pc9"><path d="M1189.6 497.9L1181 524.4Q1194.8 535.6 1212.1 535.2L1219.9 506.5Z"/></clipPath><path d="M1189.6 497.9L1181 524.4Q1194.8 535.6 1212.1 535.2L1219.9 506.5Z" fill="#fff"/><g clip-path="url(#pc9)"><use href="#lco" transform="translate(1200.3 517.2) rotate(15.8) scale(0.2189 0.2055) translate(-86.5 -85.5)"/></g><path d="M1170.1 488.9L1189.6 497.9L1181 524.4Q1194.8 535.6 1212.1 535.2L1219.9 506.5L1244 515.8" fill="none" stroke="#000" stroke-width="3.8" stroke-linecap="round" stroke-linejoin="miter"/>
<clipPath id="pc10"><path d="M1059.1 500.7L1073.1 524.3Q1091 520.6 1101.9 507.2L1081.7 483.9Z"/></clipPath><path d="M1059.1 500.7L1073.1 524.3Q1091 520.6 1101.9 507.2L1081.7 483.9Z" fill="#fff"/><g clip-path="url(#pc10)"><use href="#lco" transform="translate(1079.7 505) rotate(-36.6) scale(0.2227 0.2070) translate(-86.5 -85.5)"/></g><path d="M1037.1 515.8L1059.1 500.7L1073.1 524.3Q1091 520.6 1101.9 507.2L1081.7 483.9L1101.1 469.2" fill="none" stroke="#000" stroke-width="3.8" stroke-linecap="round" stroke-linejoin="miter"/>
<clipPath id="pc11"><path d="M1415.3 681.5L1387 688Q1383.9 705.4 1392.4 719.6L1421.8 709.8Z"/></clipPath><path d="M1415.3 681.5L1387 688Q1383.9 705.4 1392.4 719.6L1421.8 709.8Z" fill="#fff"/><g clip-path="url(#pc11)"><use href="#lco" transform="translate(1403 700.1) rotate(77.1) scale(0.2132 0.2132) translate(-86.5 -85.5)"/></g><path d="M1409.4 657.6L1415.3 681.5L1387 688Q1383.9 705.4 1392.4 719.6L1421.8 709.8L1428.3 734.4" fill="none" stroke="#000" stroke-width="3.8" stroke-linecap="round" stroke-linejoin="miter"/>
<clipPath id="pc12"><path d="M1307.6 947L1288 921.9Q1299.3 908.8 1317.4 905.6L1331.9 930.2Z"/></clipPath><path d="M1307.6 947L1288 921.9Q1299.3 908.8 1317.4 905.6L1331.9 930.2Z" fill="#fff"/><g clip-path="url(#pc12)"><use href="#lco" transform="translate(1310.5 925.2) rotate(-34.7) scale(0.2235 0.2142) translate(-86.5 -85.5)"/></g><path d="M1286.9 959.4L1307.6 947L1288 921.9Q1299.3 908.8 1317.4 905.6L1331.9 930.2L1351.5 918.7" fill="none" stroke="#000" stroke-width="3.8" stroke-linecap="round" stroke-linejoin="miter"/>
<clipPath id="pc13"><path d="M1041.9 954.1L1056 929Q1074 931.7 1085.4 944.3L1066.9 968.2Z"/></clipPath><path d="M1041.9 954.1L1056 929Q1074 931.7 1085.4 944.3L1066.9 968.2Z" fill="#fff"/><g clip-path="url(#pc13)"><use href="#lco" transform="translate(1063.2 947.9) rotate(29.4) scale(0.2204 0.2096) translate(-86.5 -85.5)"/></g><path d="M1022.3 941L1041.9 954.1L1056 929Q1074 931.7 1085.4 944.3L1066.9 968.2L1087.1 982.3" fill="none" stroke="#000" stroke-width="3.8" stroke-linecap="round" stroke-linejoin="miter"/>
<clipPath id="pc14"><path d="M928.2 811.5L943 836.1Q961.4 831.6 972.4 817.6L952.2 796.9Z"/></clipPath><path d="M928.2 811.5L943 836.1Q961.4 831.6 972.4 817.6L952.2 796.9Z" fill="#fff"/><g clip-path="url(#pc14)"><use href="#lco" transform="translate(949.7 816.5) rotate(-31.3) scale(0.2310 0.2045) translate(-86.5 -85.5)"/></g><path d="M907.1 827.4L928.2 811.5L943 836.1Q961.4 831.6 972.4 817.6L952.2 796.9L971.1 781.2" fill="none" stroke="#000" stroke-width="3.8" stroke-linecap="round" stroke-linejoin="miter"/>
<clipPath id="pc15"><path d="M1148.4 622.4L1156.5 594.5Q1174.2 593.5 1188 603.8L1177.5 630.6Z"/></clipPath><path d="M1148.4 622.4L1156.5 594.5Q1174.2 593.5 1188 603.8L1177.5 630.6Z" fill="#fff"/><g clip-path="url(#pc15)"><use href="#lco" transform="translate(1168 611.7) rotate(15.7) scale(0.2184 0.2062) translate(-86.5 -85.5)"/></g><path d="M1123.9 613.1L1148.4 622.4L1156.5 594.5Q1174.2 593.5 1188 603.8L1177.5 630.6L1198.5 639.9" fill="none" stroke="#000" stroke-width="3.8" stroke-linecap="round" stroke-linejoin="miter"/>
<clipPath id="pc16"><path d="M1135.5 776.3L1146 748.3Q1164.6 748.7 1178.2 760L1163.5 788Z"/></clipPath><path d="M1135.5 776.3L1146 748.3Q1164.6 748.7 1178.2 760L1163.5 788Z" fill="#fff"/><g clip-path="url(#pc16)"><use href="#lco" transform="translate(1156.3 767.1) rotate(22.7) scale(0.2278 0.2179) translate(-86.5 -85.5)"/></g><path d="M1112.2 763.5L1135.5 776.3L1146 748.3Q1164.6 748.7 1178.2 760L1163.5 788L1183.3 799.6" fill="none" stroke="#000" stroke-width="3.8" stroke-linecap="round" stroke-linejoin="miter"/>
</g>
<path d="M1107 470.6C1103.5 438 1124.7 436.7 1128.2 469.3" fill="none" stroke="#fac9b3" stroke-width="3.9" stroke-linecap="round"/>
<path d="M994.7 503.1A21.2 21.2 0 0 1 992.1 532.7" fill="none" stroke="#22dd18" stroke-width="3.9" stroke-linecap="round"/>
<path d="M1053.7 532.1A46.7 46.7 0 0 0 1027.8 569.7" fill="none" stroke="#f2642b" stroke-width="3.9" stroke-linecap="round"/>
<path d="M933.4 587.6C930.3 572.1 946.7 562.1 949.8 577.6" fill="none" stroke="#f9a62d" stroke-width="3.9" stroke-linecap="round"/>
<path d="M1092.5 619.9C1108.3 619 1113.6 638.8 1097.8 639.7" fill="none" stroke="#f9a62d" stroke-width="3.9" stroke-linecap="round"/>
<path d="M1198.3 674C1198.4 659.4 1216.9 668.1 1216.8 682.7" fill="none" stroke="#f9a62d" stroke-width="3.9" stroke-linecap="round"/>
<path d="M1078.8 789.8C1080.9 776.6 1094.6 780.6 1092.5 793.8" fill="none" stroke="#29a8e2" stroke-width="3.9" stroke-linecap="round"/>
<path d="M1189 816.6C1204.1 815.3 1205.4 830.4 1190.3 831.7" fill="none" stroke="#29a8e2" stroke-width="3.9" stroke-linecap="round"/>
<path d="M891.2 703.1C888 669.7 909.6 667 912.8 700.4" fill="none" stroke="#fac9b3" stroke-width="3.9" stroke-linecap="round"/>
<path d="M942.7 725.1A65.7 65.7 0 0 0 957 768.2" fill="none" stroke="#f2642b" stroke-width="3.9" stroke-linecap="round"/>
<path d="M898.2 757.9C887.1 768.6 898.5 778 909.6 767.3" fill="none" stroke="#29a8e2" stroke-width="3.9" stroke-linecap="round"/>
<path d="M922.1 881A18.5 18.5 0 0 1 950.4 888.9" fill="none" stroke="#22dd18" stroke-width="3.9" stroke-linecap="round"/>
<path d="M1165.5 457.4C1153.4 457.5 1162.9 477.1 1175 477" fill="none" stroke="#f2ec20" stroke-width="3.9" stroke-linecap="round"/>
<path d="M1251.9 454.2A26.2 26.2 0 0 0 1278.9 442.8" fill="none" stroke="#22dd18" stroke-width="3.9" stroke-linecap="round"/>
<path d="M1239.3 523.4C1219.1 541.1 1232.8 557.8 1253 540.1" fill="none" stroke="#fac9b3" stroke-width="3.9" stroke-linecap="round"/>
<path d="M1360.3 608A21.2 21.2 0 0 0 1380.6 629.1" fill="none" stroke="#22dd18" stroke-width="3.9" stroke-linecap="round"/>
<path d="M1415.7 631C1432 631.5 1419.4 648.1 1403.1 647.6" fill="none" stroke="#f9a62d" stroke-width="3.9" stroke-linecap="round"/>
<path d="M1471.2 647.6A89.4 89.4 0 0 0 1445.3 685.9" fill="none" stroke="#f2642b" stroke-width="3.9" stroke-linecap="round"/>
<path d="M1465.2 732.2C1489 754.8 1473.9 771.5 1450.1 748.9" fill="none" stroke="#fac9b3" stroke-width="3.9" stroke-linecap="round"/>
<path d="M1401.7 851.1A20.3 20.3 0 0 0 1422.9 871.7" fill="none" stroke="#22dd18" stroke-width="3.9" stroke-linecap="round"/>
<path d="M1339.1 896A50.1 50.1 0 0 0 1384 895" fill="none" stroke="#f2642b" stroke-width="3.9" stroke-linecap="round"/>
<path d="M1360.8 935.7C1337.9 959.6 1353.7 974.4 1376.6 950.5" fill="none" stroke="#fac9b3" stroke-width="3.9" stroke-linecap="round"/>
<path d="M1080.6 844C1062.8 864.7 1077.3 878.7 1095.1 858" fill="none" stroke="#fac9b3" stroke-width="3.9" stroke-linecap="round"/>
<path d="M991.3 929.3C981.7 934.6 992.5 954.2 1002.1 948.9" fill="none" stroke="#f2ec20" stroke-width="3.9" stroke-linecap="round"/>
<path d="M1097 947.8A65.5 65.5 0 0 0 1114.2 989.3" fill="none" stroke="#f2642b" stroke-width="3.9" stroke-linecap="round"/>
<path d="M1185.3 974.1C1193.1 969.5 1204.8 988.2 1197 992.8" fill="none" stroke="#f2ec20" stroke-width="3.9" stroke-linecap="round"/>
<path d="M1274.1 977.9C1286.3 980.3 1276.6 1000.9 1264.4 998.5" fill="none" stroke="#f2ec20" stroke-width="3.9" stroke-linecap="round"/>
<path d="M1201.1 441.9C1235 440 1240 452 1206 464.1" fill="none" stroke="#fac9b3" stroke-width="4.2" stroke-linecap="round"/>
</g>
<g id="circ3">
<circle cx="1923.6" cy="716.3" r="321.3" fill="#f5f5f5" stroke="#000" stroke-width="8.4"/>
<polygon points="1872.6,551.2 2042.9,590.6 2090.8,757 1974.1,882.7 1803.3,843.5 1755,675.5" fill="none" stroke="#000" stroke-width="8.4" stroke-linejoin="miter"/>
<line x1="1872.6" y1="551.2" x2="1832.3" y2="408.9" stroke="#000" stroke-width="8.4"/>
<line x1="2042.9" y1="590.6" x2="2143.6" y2="486.5" stroke="#000" stroke-width="8.4"/>
<line x1="2090.8" y1="757" x2="2234.6" y2="789.1" stroke="#000" stroke-width="8.4"/>
<line x1="1974.1" y1="882.7" x2="2015.1" y2="1023.3" stroke="#000" stroke-width="8.4"/>
<line x1="1803.3" y1="843.5" x2="1702.9" y2="948.5" stroke="#000" stroke-width="8.4"/>
<line x1="1755" y1="675.5" x2="1609" y2="643.5" stroke="#000" stroke-width="8.4"/>
<use href="#lco" transform="translate(1751.2 579.5) scale(0.3467 0.3467) translate(-86.5 -85.5)"/>
<use href="#lco" transform="translate(1717 715.7) scale(0.3467 0.3467) translate(-86.5 -85.5)"/>
<use href="#lco" transform="translate(1833.8 709.7) scale(0.3467 0.3467) translate(-86.5 -85.5)"/>
<use href="#lco" transform="translate(2050.3 486.2) scale(0.3467 0.3467) translate(-86.5 -85.5)"/>
<use href="#lco" transform="translate(2137.2 568.1) scale(0.3467 0.3467) translate(-86.5 -85.5)"/>
<use href="#lco" transform="translate(1997.7 673.3) scale(0.3467 0.3467) translate(-86.5 -85.5)"/>
<use href="#lco" transform="translate(1988.2 770) scale(0.3467 0.3467) translate(-86.5 -85.5)"/>
<use href="#lco" transform="translate(2124.3 810.4) scale(0.3467 0.3467) translate(-86.5 -85.5)"/>
<use href="#lco" transform="translate(1910.7 924.6) scale(0.3467 0.3467) translate(-86.5 -85.5)"/>
<use href="#lco2" transform="translate(1823.8 504.7)"/>
<use href="#lco2" transform="translate(1946.7 516.6) rotate(-15)"/>
<use href="#lco2" transform="translate(1913.6 612.5) rotate(10)"/>
<use href="#lco2" transform="translate(2149.1 702.9) rotate(-25)"/>
<use href="#lco2" transform="translate(1691.7 812.3)"/>
<use href="#lco2" transform="translate(1900.4 767.9) rotate(-10)"/>
<use href="#lco2" transform="translate(1802.7 945.2) rotate(5)"/>
<use href="#lco2" transform="translate(2055.6 925.9)"/>
<path d="M1709.4 524A79.8 79.8 0 0 0 1777.6 488.3" fill="none" stroke="#22dd18" stroke-width="3.7" stroke-linecap="round"/>
<path d="M1679.8 538A86 86 0 0 0 1751.2 562.3" fill="none" stroke="#fbcbb4" stroke-width="3.7" stroke-linecap="round"/>
<path d="M1765.7 529.3A73.5 73.5 0 0 1 1839.7 557" fill="none" stroke="#2fcbc0" stroke-width="3.7" stroke-linecap="round"/>
<path d="M1809.3 566.3A104.4 104.4 0 0 1 1900.4 555.7" fill="none" stroke="#f2642b" stroke-width="3.7" stroke-linecap="round"/>
<path d="M1838.3 470.4A102.5 102.5 0 0 1 1870.6 546.4" fill="none" stroke="#f2ec20" stroke-width="3.7" stroke-linecap="round"/>
<path d="M1907.8 437.6A79.8 79.8 0 0 0 1851.6 501" fill="none" stroke="#a5408f" stroke-width="3.7" stroke-linecap="round"/>
<path d="M1796.1 582.9A74.8 74.8 0 0 0 1845 650.8" fill="none" stroke="#a5408f" stroke-width="3.7" stroke-linecap="round"/>
<path d="M1697.8 600.6A59.9 59.9 0 0 0 1644.2 634.2" fill="none" stroke="#a5408f" stroke-width="3.7" stroke-linecap="round"/>
<path d="M1703.1 631.5A79.7 79.7 0 0 0 1674 700.5" fill="none" stroke="#f2ec20" stroke-width="3.7" stroke-linecap="round"/>
<path d="M1736.6 628.9A103.2 103.2 0 0 0 1801.4 723.2" fill="none" stroke="#fbcbb4" stroke-width="3.7" stroke-linecap="round"/>
<path d="M1781.1 693.7A94.3 94.3 0 0 0 1735.3 771.3" fill="none" stroke="#f2642b" stroke-width="3.7" stroke-linecap="round"/>
<path d="M1876.7 700A83.6 83.6 0 0 1 1949.1 755" fill="none" stroke="#f2642b" stroke-width="3.7" stroke-linecap="round"/>
<path d="M1929 421A120.7 120.7 0 0 1 1984.5 493.6" fill="none" stroke="#1a5f7c" stroke-width="3.7" stroke-linecap="round"/>
<path d="M2005.6 421.7A96.8 96.8 0 0 0 1949.6 493.6" fill="none" stroke="#f2642b" stroke-width="3.7" stroke-linecap="round"/>
<path d="M1881.5 515.6A97.8 97.8 0 0 1 1956.2 494.1" fill="none" stroke="#22dd18" stroke-width="3.7" stroke-linecap="round"/>
<path d="M1980.8 457.9A85.4 85.4 0 0 0 2079.1 516.1" fill="none" stroke="#fbcbb4" stroke-width="3.7" stroke-linecap="round"/>
<path d="M2038.1 478.3A107.3 107.3 0 0 1 2113.4 495.7" fill="none" stroke="#1a5f7c" stroke-width="3.7" stroke-linecap="round"/>
<path d="M2018.3 541.2A68.9 68.9 0 0 0 1975.5 591.4" fill="none" stroke="#2fcbc0" stroke-width="3.7" stroke-linecap="round"/>
<path d="M2013.6 552.3A118 118 0 0 1 2077.8 646.8" fill="none" stroke="#fbcbb4" stroke-width="3.7" stroke-linecap="round"/>
<path d="M2091 604A86.1 86.1 0 0 0 2056.6 679.9" fill="none" stroke="#a5408f" stroke-width="3.7" stroke-linecap="round"/>
<path d="M2099.7 572.3A128.4 128.4 0 0 0 2182.1 535.9" fill="none" stroke="#1a5f7c" stroke-width="3.7" stroke-linecap="round"/>
<path d="M2123.5 617.8A72.8 72.8 0 0 1 2178.2 668" fill="none" stroke="#2fcbc0" stroke-width="3.7" stroke-linecap="round"/>
<path d="M2153.1 627A77.2 77.2 0 0 1 2205.9 635.8" fill="none" stroke="#f2642b" stroke-width="3.7" stroke-linecap="round"/>
<path d="M2153.1 668.5A88.8 88.8 0 0 1 2235 657.9" fill="none" stroke="#f2ec20" stroke-width="3.7" stroke-linecap="round"/>
<path d="M1929 702.3A91.1 91.1 0 0 0 2002.5 679.9" fill="none" stroke="#22dd18" stroke-width="3.7" stroke-linecap="round"/>
<path d="M2006.8 694.7A100 100 0 0 1 2078.3 749.7" fill="none" stroke="#1a5f7c" stroke-width="3.7" stroke-linecap="round"/>
<path d="M1640.7 734.3A96.5 96.5 0 0 1 1720 778.5" fill="none" stroke="#1a5f7c" stroke-width="3.7" stroke-linecap="round"/>
<path d="M1624.9 778.7A91.9 91.9 0 0 1 1706.2 741" fill="none" stroke="#f2642b" stroke-width="3.7" stroke-linecap="round"/>
<path d="M1716.3 750.2A49.2 49.2 0 0 0 1704.9 805.7" fill="none" stroke="#a5408f" stroke-width="3.7" stroke-linecap="round"/>
<path d="M1867.9 739.6A67.1 67.1 0 0 0 1811.4 793.8" fill="none" stroke="#2fcbc0" stroke-width="3.7" stroke-linecap="round"/>
<path d="M1827 798.3A87.5 87.5 0 0 1 1757.8 844" fill="none" stroke="#a5408f" stroke-width="3.7" stroke-linecap="round"/>
<path d="M1845 800.9A116.4 116.4 0 0 1 1874.8 887.1" fill="none" stroke="#f2642b" stroke-width="3.7" stroke-linecap="round"/>
<path d="M1676.7 859.8A89 89 0 0 0 1747.7 837.9" fill="none" stroke="#22dd18" stroke-width="3.7" stroke-linecap="round"/>
<path d="M1815.1 864.3A106.9 106.9 0 0 0 1733.5 902.1" fill="none" stroke="#f2642b" stroke-width="3.7" stroke-linecap="round"/>
<path d="M1702.3 878.9A89.4 89.4 0 0 1 1757.8 941" fill="none" stroke="#a5408f" stroke-width="3.7" stroke-linecap="round"/>
<path d="M1845.8 953.6A79.4 79.4 0 0 1 1903.1 1007.8" fill="none" stroke="#2fcbc0" stroke-width="3.7" stroke-linecap="round"/>
<path d="M1834.4 987.5A85.1 85.1 0 0 1 1911 992" fill="none" stroke="#22dd18" stroke-width="3.7" stroke-linecap="round"/>
<path d="M2108.7 711.1A98.9 98.9 0 0 1 2058 813.1" fill="none" stroke="#fbcbb4" stroke-width="3.7" stroke-linecap="round"/>
<path d="M2143.8 751.5A70.3 70.3 0 0 1 2216.5 730.4" fill="none" stroke="#22dd18" stroke-width="3.7" stroke-linecap="round"/>
<path d="M2223.6 757.6A91.3 91.3 0 0 0 2191.4 832.9" fill="none" stroke="#f2ec20" stroke-width="3.7" stroke-linecap="round"/>
<path d="M2096.8 813.6A119 119 0 0 1 2184.8 830.8" fill="none" stroke="#1a5f7c" stroke-width="3.7" stroke-linecap="round"/>
<path d="M2127.2 826.8A82.8 82.8 0 0 1 2068 891.5" fill="none" stroke="#f2642b" stroke-width="3.7" stroke-linecap="round"/>
<path d="M2170 859.5A58 58 0 0 1 2181.5 855" fill="none" stroke="#22dd18" stroke-width="3.7" stroke-linecap="round"/>
<path d="M2104.2 873.8A76.7 76.7 0 0 1 2098.9 951" fill="none" stroke="#2fcbc0" stroke-width="3.7" stroke-linecap="round"/>
<path d="M1925.9 780.6A103.9 103.9 0 0 1 1957 855.9" fill="none" stroke="#f2ec20" stroke-width="3.7" stroke-linecap="round"/>
<path d="M1992.4 788.5A103.9 103.9 0 0 1 1974.7 876.5" fill="none" stroke="#1a5f7c" stroke-width="3.7" stroke-linecap="round"/>
<path d="M2011.2 897.6A88.5 88.5 0 0 0 1979.2 972.9" fill="none" stroke="#f2ec20" stroke-width="3.7" stroke-linecap="round"/>
<path d="M1909.7 902.1A98.1 98.1 0 0 1 1953.6 981.4" fill="none" stroke="#1a5f7c" stroke-width="3.7" stroke-linecap="round"/>
<line x1="1769" y1="504.2" x2="1696.1" y2="561.6" stroke="#04205e" stroke-width="17.7"/>
<line x1="1812.6" y1="528.6" x2="1738.6" y2="585.4" stroke="#04205e" stroke-width="18.8"/>
<line x1="1934.7" y1="588.7" x2="1858.6" y2="671" stroke="#04205e" stroke-width="19.5"/>
<line x1="1947.7" y1="467.6" x2="1882.6" y2="533.9" stroke="#04205e" stroke-width="17.2"/>
<line x1="2028.5" y1="454.5" x2="2028.5" y2="547.8" stroke="#04205e" stroke-width="19.2"/>
<line x1="2130.2" y1="528.3" x2="2182.8" y2="605.5" stroke="#04205e" stroke-width="17.4"/>
<line x1="2155" y1="613.8" x2="2083.7" y2="670" stroke="#04205e" stroke-width="17.7"/>
<line x1="2192.4" y1="670" x2="2141.4" y2="699.7" stroke="#04205e" stroke-width="14"/>
<line x1="2003.8" y1="630.3" x2="1929.4" y2="686.5" stroke="#04205e" stroke-width="18"/>
<line x1="1684.5" y1="711.6" x2="1656.1" y2="764.2" stroke="#04205e" stroke-width="16.3"/>
<line x1="1725.8" y1="799.5" x2="1660" y2="865.3" stroke="#04205e" stroke-width="17"/>
<line x1="1836.4" y1="705.3" x2="1808.6" y2="755.9" stroke="#04205e" stroke-width="16.5"/>
<line x1="1902.4" y1="748.2" x2="2013.4" y2="730.4" stroke="#04205e" stroke-width="18.8"/>
<line x1="1834.4" y1="926" x2="1806.6" y2="979.3" stroke="#04205e" stroke-width="15.7"/>
<line x1="1911.4" y1="910.7" x2="1845.6" y2="975.4" stroke="#04205e" stroke-width="16.4"/>
<line x1="2040.1" y1="872.8" x2="2096.9" y2="855.5" stroke="#04205e" stroke-width="14.3"/>
<line x1="2177.2" y1="842.3" x2="2100.5" y2="923.9" stroke="#04205e" stroke-width="16.8"/>
</g>
<path d="M193.7 1132.6C236 1114.3 282 1114.3 286.3 1134.5" fill="none" stroke="#000" stroke-width="5" stroke-linecap="round"/>
<path d="M195.5 1157.5C237.8 1139.2 283.8 1139.2 288.1 1159.4" fill="none" stroke="#000" stroke-width="5" stroke-linecap="round"/>
<text x="333.80" y="1161.3" font-size="65" letter-spacing="2.618">Linear array</text>
<circle cx="242.2" cy="1255.2" r="12" fill="#000"/>
<text x="335.00" y="1271.3" font-size="65" letter-spacing="2.381">Dislocation nucleation</text>
<use href="#lco" transform="translate(1079.5 1131.5) scale(0.3444 0.4000) translate(-86.5 -85.5)"/>
<path d="M1007 1158.6L1051.4 1157.4C1051.4 1140 1051.8 1120 1049.3 1106Q1048.6 1103.2 1051 1102.4Q1085.6 1091.3 1107.7 1100.2Q1110.4 1101.4 1109 1104C1106 1112 1106.5 1125 1106.3 1154.9L1148.3 1156.3" fill="none" stroke="#000" stroke-width="4.2" stroke-linecap="round" stroke-linejoin="round"/>
<text x="1193.10" y="1162.2" font-size="65" letter-spacing="2.767">Pinning</text>
<rect x="1709.1" y="1123.8" width="146.7" height="35.6" fill="#04205e"/>
<text x="1901.80" y="1160.2" font-size="65" letter-spacing="2.825">Microband</text>
<path d="M1248.2 1269.1A143.5 143.5 0 0 1 1354.5 1219.8" fill="none" stroke="#fc6b30" stroke-width="4.9" stroke-linecap="round"/>
<path d="M1269.2 1211.8A163 163 0 0 1 1372 1268.4" fill="none" stroke="#1b6489" stroke-width="4.9" stroke-linecap="round"/>
<text x="1455.00" y="1272.9" font-size="65" letter-spacing="2.496">Dislocation multiplication</text>
</svg></body></html>
